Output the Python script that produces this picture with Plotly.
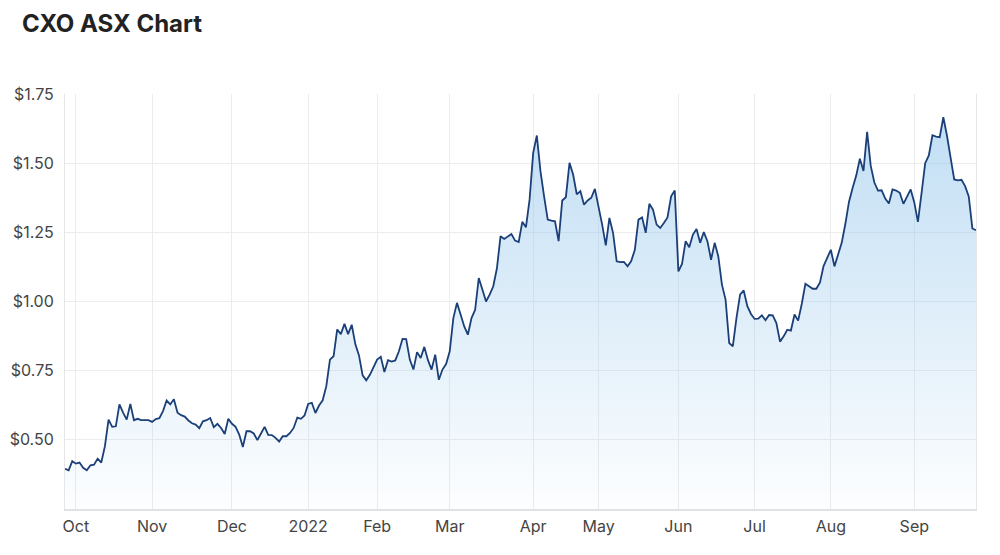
import pandas as pd
import plotly.graph_objects as go

# ---- Trading calendar (ASX) ----
START = "2021-09-28"
END = "2022-09-27"
asx_holidays = ["2021-12-27", "2021-12-28", "2022-01-03", "2022-01-26",
                "2022-04-15", "2022-04-18", "2022-04-25", "2022-06-13",
                "2022-09-22"]

# ---- Closing prices (A$), by period ----
prices_sep_oct_2021 = [0.395, 0.390, 0.423, 0.414, 0.418, 0.399, 0.390, 0.408, 0.410, 0.432,
                       0.418, 0.477, 0.573, 0.547, 0.549, 0.628, 0.598, 0.573, 0.630, 0.571,
                       0.576, 0.571, 0.571, 0.571]
prices_nov_2021 = [0.565, 0.575, 0.578, 0.604, 0.642, 0.628, 0.647, 0.598, 0.589, 0.584,
                   0.570, 0.560, 0.555, 0.542, 0.567, 0.571, 0.579, 0.546, 0.558, 0.543,
                   0.521, 0.576]
prices_dec_2021 = [0.558, 0.547, 0.519, 0.474, 0.531, 0.531, 0.523, 0.499, 0.523, 0.547,
                   0.518, 0.517, 0.507, 0.494, 0.513, 0.513, 0.525, 0.543, 0.580, 0.576,
                   0.588]
prices_jan_2022 = [0.630, 0.634, 0.597, 0.624, 0.643, 0.694, 0.790, 0.802, 0.899, 0.882,
                   0.919, 0.882, 0.916, 0.845, 0.805, 0.733, 0.715, 0.735, 0.760]
prices_feb_2022 = [0.790, 0.800, 0.745, 0.788, 0.783, 0.787, 0.820, 0.865, 0.864, 0.790,
                   0.754, 0.817, 0.796, 0.836, 0.788, 0.754, 0.808, 0.717, 0.754, 0.774]
prices_mar_2022 = [0.820, 0.940, 0.995, 0.953, 0.910, 0.880, 0.940, 0.970, 1.085, 1.043,
                   1.000, 1.025, 1.055, 1.120, 1.236, 1.226, 1.236, 1.244, 1.220, 1.215,
                   1.288, 1.268, 1.368]
prices_apr_2022 = [1.537, 1.600, 1.471, 1.380, 1.296, 1.292, 1.290, 1.218, 1.365, 1.377,
                   1.501, 1.459, 1.387, 1.399, 1.350, 1.365, 1.375, 1.407]
prices_may_2022 = [1.344, 1.278, 1.203, 1.302, 1.248, 1.145, 1.142, 1.143, 1.127, 1.146,
                   1.187, 1.296, 1.304, 1.248, 1.353, 1.332, 1.278, 1.266, 1.284, 1.304,
                   1.380, 1.401]
prices_jun_2022 = [1.109, 1.136, 1.218, 1.196, 1.242, 1.262, 1.212, 1.251, 1.218, 1.151,
                   1.212, 1.163, 1.061, 1.007, 0.850, 0.838, 0.940, 1.025, 1.040, 0.983,
                   0.955]
prices_jul_2022 = [0.937, 0.938, 0.950, 0.932, 0.951, 0.950, 0.922, 0.855, 0.874, 0.898,
                   0.895, 0.953, 0.931, 0.992, 1.064, 1.055, 1.046, 1.046, 1.068, 1.128,
                   1.155]
prices_aug_2022 = [1.187, 1.127, 1.174, 1.212, 1.280, 1.360, 1.410, 1.455, 1.516, 1.472,
                   1.613, 1.490, 1.430, 1.401, 1.402, 1.372, 1.354, 1.405, 1.401, 1.393,
                   1.353, 1.380, 1.405]
prices_sep_2022 = [1.358, 1.288, 1.392, 1.500, 1.528, 1.601, 1.596, 1.594, 1.666, 1.600,
                   1.520, 1.441, 1.438, 1.440, 1.417, 1.380, 1.264, 1.258]

month_labels = ["Oct", "Nov", "Dec", "2022", "Feb", "Mar", "Apr", "May",
                "Jun", "Jul", "Aug", "Sep"]
y_ticks = [0.50, 0.75, 1.00, 1.25, 1.50, 1.75]
y_tick_labels = ["$0.50", "$0.75", "$1.00", "$1.25", "$1.50", "$1.75"]

prices = (prices_sep_oct_2021 + prices_nov_2021 + prices_dec_2021 + prices_jan_2022 +
          prices_feb_2022 + prices_mar_2022 + prices_apr_2022 + prices_may_2022 +
          prices_jun_2022 + prices_jul_2022 + prices_aug_2022 + prices_sep_2022)

days = pd.bdate_range(START, END)
days = days[~days.isin(pd.to_datetime(asx_holidays))]
dates = [d.strftime("%Y-%m-%d") for d in days]
assert len(dates) == len(prices), (len(dates), len(prices))

# first trading day of each month (after the first partial month)
month_firsts = []
seen = set()
for d in days:
    key = (d.year, d.month)
    if key not in seen:
        seen.add(key)
        month_firsts.append(d.strftime("%Y-%m-%d"))
month_firsts = month_firsts[1:]

FONT = "Inter, Roboto, Arial, sans-serif"

fig = go.Figure()
fig.add_trace(go.Scatter(
    x=dates, y=prices, mode="lines",
    line=dict(color="#1b3f78", width=1.8),
    fill="tozeroy",
    fillgradient=dict(
        type="vertical", start=0.25, stop=1.67,
        colorscale=[[0, "rgba(148,198,236,0.02)"], [1, "rgba(148,198,236,0.58)"]],
    ),
    hoverinfo="skip",
    showlegend=False,
))

fig.update_layout(
    width=1000, height=555, autosize=False,
    margin=dict(l=65, r=24, t=94, b=46),
    paper_bgcolor="white", plot_bgcolor="white",
    title=dict(text="CXO ASX Chart", x=0.022, xanchor="left", xref="container",
               y=1 - 24 / 555, yanchor="middle", yref="container",
               font=dict(family=FONT, size=24, color="#222222", weight=700)),
    font=dict(family=FONT, size=16, color="#444444"),
)
fig.update_xaxes(
    type="category", range=[0, len(dates) - 1], automargin=False,
    tickmode="array", tickvals=month_firsts, ticktext=month_labels,
    showgrid=True, gridcolor="#ececec", gridwidth=1,
    showline=True, linecolor="#e2e2e2", linewidth=2,
    ticks="outside", ticklen=2, tickcolor="rgba(0,0,0,0)",
    tickfont=dict(family=FONT, size=16, color="#444444"),
    zeroline=False, fixedrange=True,
)
fig.update_yaxes(
    range=[0.25, 1.75], automargin=False,
    tickmode="array", tickvals=y_ticks, ticktext=y_tick_labels,
    showgrid=True, gridcolor="#ececec", gridwidth=1,
    showline=True, linecolor="#e6e6e6", linewidth=1, mirror=True,
    ticks="", ticklabelstandoff=7,
    tickfont=dict(family=FONT, size=16, color="#444444"),
    zeroline=False, fixedrange=True,
)

fig.write_html("out.html")
